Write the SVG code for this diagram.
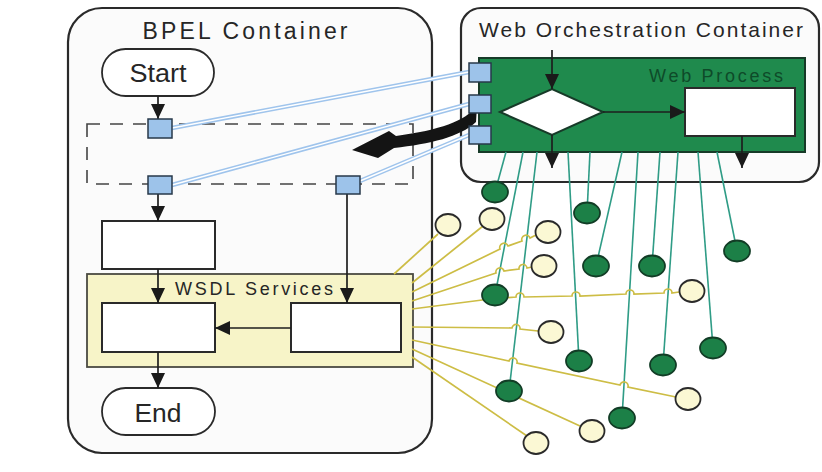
<svg xmlns="http://www.w3.org/2000/svg" width="822" height="472" viewBox="0 0 822 472">
  <defs>
    <style>
      text { font-family: "Liberation Sans", Arial, sans-serif; fill: #262626; }
      .container { fill: #fbfbfb; stroke: #2a2a2a; stroke-width: 2.2; }
      .box { fill: #ffffff; stroke: #2a2a2a; stroke-width: 2; }
      .stadium { fill: #ffffff; stroke: #2a2a2a; stroke-width: 1.8; }
      .port { fill: #9dc3ea; stroke: #27384a; stroke-width: 1.5; }
      .flow { fill: none; stroke: #1e1e1e; stroke-width: 1.7; marker-end: url(#ah); }
      .wire-o { fill: none; stroke: #9fc4ec; stroke-width: 4.5; }
      .wire-i { fill: none; stroke: #ffffff; stroke-width: 1.4; }
      .gl { fill: none; stroke: #2f9c86; stroke-width: 1.6; }
      .yl { fill: none; stroke: #cdbd45; stroke-width: 1.7; }
      .gn { fill: #1c8047; stroke: #123d26; stroke-width: 1.8; }
      .yn { fill: #fbf8d4; stroke: #2a2a2a; stroke-width: 1.8; }
    </style>
    <marker id="ah" markerUnits="userSpaceOnUse" markerWidth="15" markerHeight="14" refX="15" refY="7" orient="auto" viewBox="0 0 15 14">
      <path d="M0,0 L15,7 L0,14 Z" fill="#1a1a1a"/>
    </marker>
  </defs>

  <rect width="822" height="472" fill="#ffffff"/>

  <!-- containers -->
  <g id="bpel-container">
    <rect class="container" x="68" y="8" width="364" height="445" rx="34"/>
    <text x="245" y="39" font-size="23" text-anchor="middle" textLength="205" lengthAdjust="spacing">BPEL Container</text>
  </g>
  <g id="web-container">
    <rect class="container" x="461" y="8" width="358" height="174" rx="20" fill="#ffffff"/>
    <text x="641" y="37" font-size="21" text-anchor="middle" textLength="324" lengthAdjust="spacing">Web Orchestration Container</text>
  </g>

  <!-- BPEL flow -->
  <g id="scope">
    <rect x="87" y="124" width="326" height="60" fill="none" stroke="#444" stroke-width="1.6" stroke-dasharray="13,10"/>
  </g>
  <g id="start">
    <rect class="stadium" x="102" y="49" width="112" height="47" rx="23.5"/>
    <text x="158" y="82" font-size="25" text-anchor="middle" textLength="57" lengthAdjust="spacingAndGlyphs">Start</text>
  </g>
  <g id="task">
    <rect class="box" x="102" y="221" width="113" height="48"/>
  </g>
  <g id="wsdl-services">
    <rect x="87" y="274" width="326" height="93" fill="#f7f4c8" stroke="#4a4a42" stroke-width="1.8"/>
    <text x="175" y="295" font-size="18" textLength="158" lengthAdjust="spacing">WSDL Services</text>
  </g>
  <g id="service-left">
    <rect class="box" x="102" y="303" width="113" height="49"/>
  </g>
  <g id="service-right">
    <rect class="box" x="291" y="303" width="110" height="49"/>
  </g>
  <g id="end">
    <rect class="stadium" x="102" y="388" width="113" height="47" rx="23.5"/>
    <text x="158" y="422" font-size="25" text-anchor="middle" textLength="47" lengthAdjust="spacingAndGlyphs">End</text>
  </g>

  <!-- Web process -->
  <g id="web-process">
    <rect x="479" y="58" width="326" height="94" fill="#1f8a4d" stroke="#173a28" stroke-width="2"/>
    <text x="649" y="82" font-size="18" textLength="134" lengthAdjust="spacing" style="fill:#0e4a29">Web Process</text>
  </g>
  <g id="decision">
    <polygon points="500,112 552,89 603,112 552,135" fill="#ffffff" stroke="#173a28" stroke-width="2"/>
  </g>
  <g id="web-task">
    <rect class="box" x="685" y="88" width="110" height="48"/>
  </g>

  <g id="connectors">
    <!-- partner links -->
    <path class="wire-o" d="M172,128 L469,72 M172,185 L469,104 M360,181 L469,135"/>
    <path class="wire-i" d="M172,128 L469,72 M172,185 L469,104 M360,181 L469,135"/>

    <!-- BPEL control flow -->
    <path class="flow" d="M158,96 L158,119"/>
    <path class="flow" d="M158,194 L158,221"/>
    <path class="flow" d="M158,269 L158,303"/>
    <path class="flow" d="M347,194 L347,303"/>
    <path class="flow" d="M291,328 L215,328"/>
    <path class="flow" d="M158,352 L158,388"/>

    <!-- web process control flow -->
    <path class="flow" d="M552,50 L552,89"/>
    <path class="flow" d="M603,112 L685,112"/>
    <path class="flow" d="M552,135 L552,168"/>
    <path class="flow" d="M742,136 L742,168"/>

    <!-- migration arrow -->
    <path d="M477,106 C465,121 440,130 396,136 L389,131 L352,150 L378,158 L394,148 C430,144 460,137 476,122 Z" fill="#141414"/>

    <!-- web service bindings -->
    <path class="gl" d="M506,152 L495,192"/>
    <path class="gl" d="M523,152 L495,295"/>
    <path class="gl" d="M537,152 L509,391"/>
    <path class="gl" d="M568,152 L579,361"/>
    <path class="gl" d="M590,152 L587,213"/>
    <path class="gl" d="M622,152 L596,266"/>
    <path class="gl" d="M638,152 L622,418"/>
    <path class="gl" d="M660,152 L652,266"/>
    <path class="gl" d="M678,152 L663,365"/>
    <path class="gl" d="M698,152 L713,348"/>
    <path class="gl" d="M717,152 L737,251"/>

    <!-- WSDL bindings -->
    <path class="yl" d="M394,274 L438,234"/>
    <path class="yl" d="M412,283 L483,226"/>
    <path class="yl" d="M412,292 L496,251 L500,249 A4,4 0 0 1 508,246 L522,241 A4,4 0 0 1 530,238 L536,235"/>
    <path class="yl" d="M412,301 L496,273 A4,4 0 0 1 504,271 L519,269 A4,4 0 0 1 527,268 L532,267"/>
    <path class="yl" d="M412,309 L490,299 L516,297 A4,4 0 0 1 524,297 L572,296 A4,4 0 0 1 580,296 L626,294 A4,4 0 0 1 634,294 L664,293 A4,4 0 0 1 672,293 L679,292"/>
    <path class="yl" d="M412,327 L512,328 A4,4 0 0 1 520,329 L538,331"/>
    <path class="yl" d="M412,340 L509,361 A4,4 0 0 1 517,363 L620,385 A4,4 0 0 1 628,387 L676,397"/>
    <path class="yl" d="M412,349 L580,426"/>
    <path class="yl" d="M412,357 L527,436"/>
  </g>

  <!-- ports -->
  <g id="port-b1"><rect class="port" x="148" y="119" width="24" height="19"/></g>
  <g id="port-b2"><rect class="port" x="148" y="176" width="24" height="18"/></g>
  <g id="port-b3"><rect class="port" x="336" y="176" width="24" height="18"/></g>
  <g id="port-w1"><rect class="port" x="469" y="63" width="22" height="19"/></g>
  <g id="port-w2"><rect class="port" x="469" y="95" width="22" height="18"/></g>
  <g id="port-w3"><rect class="port" x="469" y="126" width="22" height="18"/></g>

  <!-- web services -->
  <g id="ws-1"><ellipse class="gn" cx="495" cy="192" rx="13" ry="10.5"/></g>
  <g id="ws-2"><ellipse class="gn" cx="587" cy="213" rx="13" ry="10.5"/></g>
  <g id="ws-3"><ellipse class="gn" cx="737" cy="251" rx="13" ry="10.5"/></g>
  <g id="ws-4"><ellipse class="gn" cx="596" cy="266" rx="13" ry="10.5"/></g>
  <g id="ws-5"><ellipse class="gn" cx="652" cy="266" rx="13" ry="10.5"/></g>
  <g id="ws-6"><ellipse class="gn" cx="495" cy="295" rx="13" ry="10.5"/></g>
  <g id="ws-7"><ellipse class="gn" cx="579" cy="361" rx="13" ry="10.5"/></g>
  <g id="ws-8"><ellipse class="gn" cx="663" cy="365" rx="13" ry="10.5"/></g>
  <g id="ws-9"><ellipse class="gn" cx="713" cy="348" rx="13" ry="10.5"/></g>
  <g id="ws-10"><ellipse class="gn" cx="509" cy="391" rx="13" ry="10.5"/></g>
  <g id="ws-11"><ellipse class="gn" cx="622" cy="418" rx="13" ry="10.5"/></g>

  <!-- WSDL endpoints -->
  <g id="ep-1"><ellipse class="yn" cx="448" cy="225" rx="12.5" ry="11"/></g>
  <g id="ep-2"><ellipse class="yn" cx="492" cy="219" rx="12.5" ry="11"/></g>
  <g id="ep-3"><ellipse class="yn" cx="548" cy="232" rx="12.5" ry="11"/></g>
  <g id="ep-4"><ellipse class="yn" cx="544" cy="266" rx="12.5" ry="11"/></g>
  <g id="ep-5"><ellipse class="yn" cx="692" cy="291" rx="12.5" ry="11"/></g>
  <g id="ep-6"><ellipse class="yn" cx="551" cy="332" rx="12.5" ry="11"/></g>
  <g id="ep-7"><ellipse class="yn" cx="688" cy="399" rx="12.5" ry="11"/></g>
  <g id="ep-8"><ellipse class="yn" cx="592" cy="431" rx="12.5" ry="11"/></g>
  <g id="ep-9"><ellipse class="yn" cx="536" cy="443" rx="12.5" ry="11"/></g>
</svg>
